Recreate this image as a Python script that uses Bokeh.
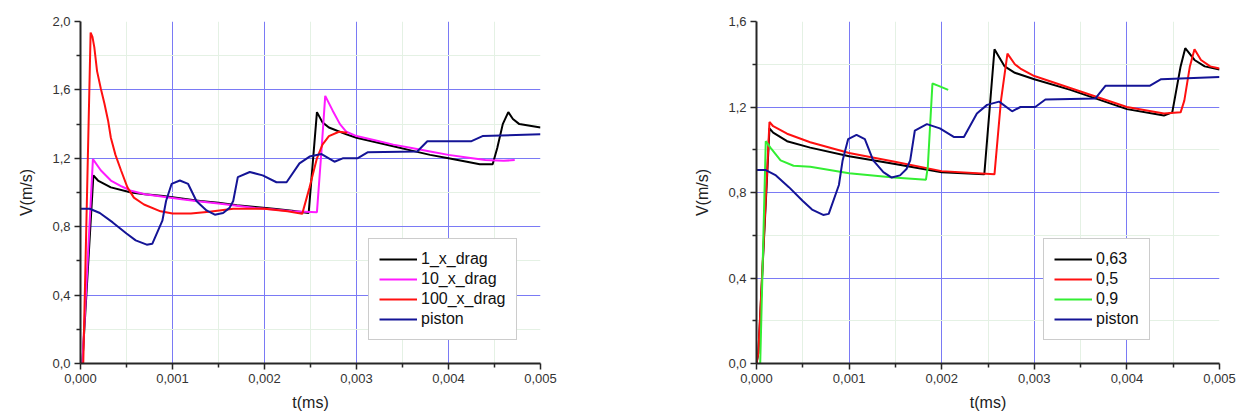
from bokeh.plotting import figure
from bokeh.layouts import row
from bokeh.models import Range1d, FixedTicker
from bokeh.embed import file_html
from bokeh.resources import INLINE

# ---------------- data ----------------
x_ticks = [0.0, 0.001, 0.002, 0.003, 0.004, 0.005]
x_tick_labels = ["0,000", "0,001", "0,002", "0,003", "0,004", "0,005"]
x_minor = [0.0005, 0.0015, 0.0025, 0.0035, 0.0045]

yL_ticks = [0.0, 0.4, 0.8, 1.2, 1.6, 2.0]
yL_tick_labels = ["0,0", "0,4", "0,8", "1,2", "1,6", "2,0"]
yL_minor = [0.2, 0.6, 1.0, 1.4, 1.8]

yR_ticks = [0.0, 0.4, 0.8, 1.2, 1.6]
yR_tick_labels = ["0,0", "0,4", "0,8", "1,2", "1,6"]
yR_minor = [0.2, 0.6, 1.0, 1.4]

# piston (same in both panels)
t_piston = [0, 0.0001, 0.00021, 0.00035, 0.0005, 0.0006, 0.00072, 0.00078, 0.00089, 0.00093,
            0.00099, 0.00108, 0.00117, 0.00126, 0.0013, 0.00137, 0.00146, 0.00155, 0.00162,
            0.00166, 0.00171, 0.00184, 0.00198, 0.00213, 0.00224, 0.00238, 0.00249, 0.00262,
            0.00276, 0.00285, 0.00301, 0.00312, 0.00366, 0.00377, 0.00425, 0.00437, 0.005]
v_piston = [0.905, 0.905, 0.88, 0.825, 0.76, 0.72, 0.695, 0.70, 0.835, 0.95,
            1.05, 1.07, 1.05, 0.95, 0.93, 0.895, 0.87, 0.88, 0.91,
            0.95, 1.09, 1.12, 1.10, 1.06, 1.06, 1.17, 1.21, 1.225,
            1.18, 1.20, 1.20, 1.235, 1.24, 1.30, 1.30, 1.33, 1.34]

# left panel
t_1x = [0, 0.00002, 0.00014, 0.00019, 0.00033, 0.00055, 0.0007, 0.0009, 0.0011, 0.0013,
        0.0015, 0.0017, 0.0019, 0.0021, 0.0023, 0.00248, 0.00257, 0.00263, 0.0027, 0.00289,
        0.003, 0.0032, 0.0034, 0.0036, 0.0038, 0.004, 0.0042, 0.00434, 0.00448, 0.00453,
        0.00459, 0.00465, 0.0047, 0.00477, 0.005]
v_1x = [0, 0, 1.10, 1.07, 1.03, 1.0, 0.99, 0.98, 0.965, 0.95,
        0.94, 0.925, 0.915, 0.905, 0.893, 0.88, 1.47, 1.41, 1.38, 1.34,
        1.32, 1.295, 1.27, 1.245, 1.22, 1.20, 1.18, 1.165, 1.165, 1.26,
        1.40, 1.47, 1.43, 1.40, 1.38]

t_10x = [0, 0.00002, 0.000135, 0.00022, 0.00033, 0.00045, 0.00055, 0.0007, 0.0009, 0.0011,
         0.0013, 0.0015, 0.0017, 0.0019, 0.0021, 0.0023, 0.00257, 0.00262, 0.00266, 0.00274,
         0.00282, 0.00289, 0.003, 0.0032, 0.0034, 0.0036, 0.0038, 0.004, 0.0042, 0.0044,
         0.0046, 0.00472]
v_10x = [0, 0, 1.195, 1.13, 1.07, 1.035, 1.01, 0.99, 0.975, 0.96,
         0.947, 0.935, 0.922, 0.91, 0.9, 0.89, 0.885, 1.25, 1.565, 1.48,
         1.40, 1.355, 1.33, 1.305, 1.28, 1.26, 1.24, 1.22, 1.205, 1.19,
         1.185, 1.19]

t_100x = [0, 0.00003, 0.00011, 0.00013, 0.00015, 0.00018, 0.00022, 0.00026, 0.0003, 0.00033,
          0.00038, 0.00044, 0.00051, 0.00058, 0.00069, 0.00087, 0.001, 0.0012, 0.0014,
          0.00166, 0.002, 0.00225, 0.00241, 0.00249, 0.00257, 0.00263, 0.0027, 0.00281, 0.0029]
v_100x = [0, 0, 1.935, 1.91, 1.85, 1.71, 1.61, 1.52, 1.42, 1.32,
          1.22, 1.13, 1.03, 0.97, 0.93, 0.89, 0.877, 0.877, 0.888,
          0.905, 0.905, 0.89, 0.875, 1.03, 1.20, 1.28, 1.33, 1.355, 1.35]

# right panel
t_063 = [0, 0.00002, 0.00014, 0.00018, 0.00033, 0.00058, 0.001, 0.00148, 0.002, 0.00246,
         0.00257, 0.00268, 0.00279, 0.003, 0.00339, 0.004, 0.0044, 0.00449, 0.00458, 0.00463,
         0.00473, 0.00484, 0.005]
v_063 = [0, 0.05, 1.10, 1.08, 1.04, 1.01, 0.97, 0.935, 0.895, 0.885,
         1.47, 1.39, 1.36, 1.33, 1.28, 1.19, 1.16, 1.175, 1.39, 1.475,
         1.42, 1.39, 1.375]

t_05 = [0, 0.00002, 0.00014, 0.00018, 0.00033, 0.00058, 0.001, 0.00148, 0.002, 0.00257,
        0.00264, 0.00271, 0.00279, 0.00285, 0.003, 0.004, 0.0044, 0.00458, 0.00462, 0.00468,
        0.00473, 0.0048, 0.0049, 0.005]
v_05 = [0, 0.05, 1.13, 1.11, 1.075, 1.035, 0.985, 0.945, 0.90, 0.885,
        1.23, 1.45, 1.40, 1.38, 1.345, 1.20, 1.17, 1.175, 1.23, 1.39,
        1.47, 1.42, 1.39, 1.38]

t_09 = [0.00004, 0.0001, 0.00015, 0.00026, 0.0004, 0.00058, 0.001, 0.00148, 0.00183, 0.00185,
        0.0019, 0.00196, 0.00207]
v_09 = [0, 1.04, 1.01, 0.95, 0.925, 0.92, 0.89, 0.87, 0.86, 0.92,
        1.31, 1.30, 1.28]

BLACK = "#000000"
MAGENTA = "#ff1aff"
RED = "#ff1010"
BLUE = "#141496"
GREEN = "#33ee33"
FONT = "Liberation Sans"


def make_fig(width, border_left, border_right, y_max, y_ticks, y_labels, y_minor):
    p = figure(width=width, height=413, output_backend="svg", toolbar_location=None,
               x_range=Range1d(0, 0.005), y_range=Range1d(0, y_max),
               min_border_left=border_left, min_border_right=border_right,
               min_border_top=21, min_border_bottom=50)
    p.outline_line_color = None
    p.background_fill_color = "white"
    p.border_fill_color = "white"

    p.xaxis.ticker = FixedTicker(ticks=x_ticks, minor_ticks=x_minor)
    p.xaxis.major_label_overrides = {t: l for t, l in zip(x_ticks, x_tick_labels)}
    p.yaxis.ticker = FixedTicker(ticks=y_ticks, minor_ticks=y_minor)
    p.yaxis.major_label_overrides = {t: l for t, l in zip(y_ticks, y_labels)}

    for ax in (p.xaxis, p.yaxis):
        ax.axis_line_color = "#262626"
        ax.axis_line_width = 2
        ax.major_tick_line_color = "#262626"
        ax.minor_tick_line_color = "#262626"
        ax.major_tick_line_width = 1.5
        ax.minor_tick_line_width = 1.5
        ax.major_tick_out = 6
        ax.major_tick_in = 0
        ax.minor_tick_out = 4
        ax.minor_tick_in = 0
        ax.major_label_text_font = FONT
        ax.major_label_text_font_size = "13px"
        ax.major_label_text_color = "#333333"
        ax.axis_label_text_font = FONT
        ax.axis_label_text_font_size = "16px"
        ax.axis_label_text_font_style = "normal"
        ax.axis_label_text_color = "#222222"
        ax.major_label_standoff = 4

    p.xaxis.axis_label = "t(ms)"
    p.yaxis.axis_label = "V(m/s)"
    p.xaxis.axis_label_standoff = 8
    p.yaxis.axis_label_standoff = 14

    p.xgrid.ticker = FixedTicker(ticks=[t for t in x_ticks if 0 < t < 0.005], minor_ticks=x_minor)
    p.ygrid.ticker = FixedTicker(ticks=[t for t in y_ticks if 0 < t < y_max], minor_ticks=y_minor)
    for g in (p.xgrid, p.ygrid):
        g.grid_line_color = "#7a7af5"
        g.grid_line_width = 1
        g.minor_grid_line_color = "#e4f1e4"
        g.minor_grid_line_width = 1
    return p


left = make_fig(620, 80, 80, 2.0, yL_ticks, yL_tick_labels, yL_minor)
left.line(t_1x, v_1x, color=BLACK, line_width=2, legend_label="1_x_drag")
left.line(t_10x, v_10x, color=MAGENTA, line_width=2, legend_label="10_x_drag")
left.line(t_100x, v_100x, color=RED, line_width=2, legend_label="100_x_drag")
left.line(t_piston, v_piston, color=BLUE, line_width=2, legend_label="piston")

right = make_fig(617, 136, 18, 1.6, yR_ticks, yR_tick_labels, yR_minor)
right.line(t_063, v_063, color=BLACK, line_width=2, legend_label="0,63")
right.line(t_05, v_05, color=RED, line_width=2, legend_label="0,5")
right.line(t_09, v_09, color=GREEN, line_width=2, legend_label="0,9")
right.line(t_piston, v_piston, color=BLUE, line_width=2, legend_label="piston")

for p, loc in ((left, (288, 23)), (right, (287, 23))):
    lg = p.legend[0]
    lg.location = loc
    lg.border_line_color = "#9a9a9a"
    lg.border_line_width = 1.5
    lg.background_fill_color = "white"
    lg.background_fill_alpha = 1
    lg.label_text_font = FONT
    lg.label_text_font_size = "16px"
    lg.label_text_color = "#111111"
    lg.glyph_width = 38
    lg.glyph_height = 20
    lg.label_height = 20
    lg.label_standoff = 4
    lg.spacing = 0
    lg.padding = 10
    lg.margin = 0

layout = row(left, right)
open("out.html", "w").write(file_html(layout, INLINE))
